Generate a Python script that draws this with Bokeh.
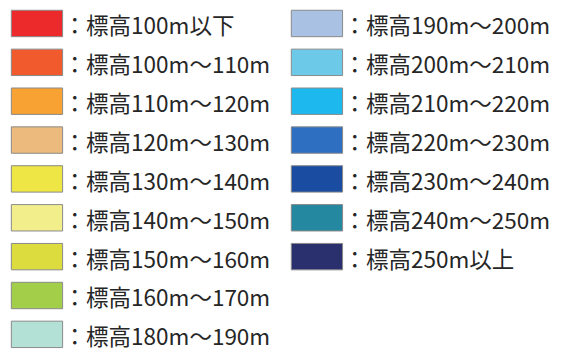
from bokeh.plotting import figure
from bokeh.models import Range1d, ColumnDataSource
from bokeh.core.properties import value
from bokeh.embed import file_html
from bokeh.resources import INLINE

left_labels = ["：標高100m以下", "：標高100m～110m", "：標高110m～120m", "：標高120m～130m",
               "：標高130m～140m", "：標高140m～150m", "：標高150m～160m", "：標高160m～170m",
               "：標高180m～190m"]
left_colors = ["#EC2A2C", "#F05A2C", "#F7A233", "#EBBA7C", "#EDE645", "#F2EE8C",
               "#DCDC3E", "#A2CE4A", "#B4E1D6"]
right_labels = ["：標高190m～200m", "：標高200m～210m", "：標高210m～220m", "：標高220m～230m",
                "：標高230m～240m", "：標高240m～250m", "：標高250m以上"]
right_colors = ["#A9C1E3", "#6DC9E8", "#1DB9EE", "#2F6FC2", "#1A4DA2", "#2388A0", "#2A306E"]

W, H = 555, 350
ROW0, PITCH, SW_W, SW_H = 23.5, 39.75, 52, 27
COLS = [(37, 64), (321, 348)]  # swatch center x, text start x

p = figure(width=W, height=H, x_range=Range1d(0, 563), y_range=Range1d(358, 0),
           output_backend="svg", toolbar_location=None, min_border=0)
p.axis.visible = False
p.grid.visible = False
p.outline_line_color = None

for (sx, tx), labels, colors in [(COLS[0], left_labels, left_colors), (COLS[1], right_labels, right_colors)]:
    ys = [ROW0 + PITCH * i for i in range(len(labels))]
    src = ColumnDataSource(dict(
        x=[sx] * len(labels), tx=[tx] * len(labels), y=ys, ty=[y + 1 for y in ys],
        label=labels, color=colors))
    p.rect(x="x", y="y", width=SW_W, height=SW_H, fill_color="color",
           line_color="#8a8a8a", line_width=1, source=src)
    p.text(x="tx", y="ty", text="label", text_font=value("Noto Sans CJK JP"),
           text_font_size="22.5px", text_color="#262626", text_baseline="middle",
           text_align="left", source=src)

open("out.html", "w").write(file_html(p, INLINE))
